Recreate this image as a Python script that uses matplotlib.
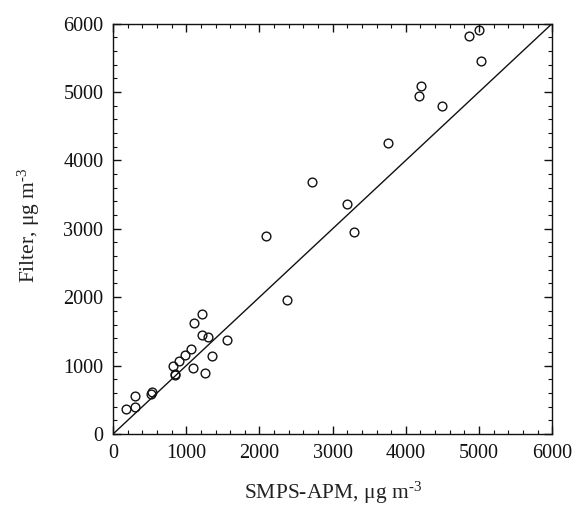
import matplotlib
matplotlib.use("Agg")
import matplotlib.pyplot as plt
from matplotlib.ticker import MultipleLocator

smps_apm = [178, 300, 300, 515, 528, 824, 851, 851, 901, 984, 1061, 1097, 1102,
            1220, 1216, 1293, 1257, 1357, 1557, 2381, 2086, 2714, 3197, 3288,
            3757, 4203, 4184, 4499, 4863, 5000, 5031]
filter_mass = [361, 556, 390, 580, 614, 999, 863, 875, 1067, 1155, 1238, 970, 1623,
               1759, 1447, 1413, 896, 1145, 1379, 1964, 2895, 3684, 3363, 2958,
               4254, 5083, 4942, 4795, 5823, 5911, 5453]
fit_x = [0, 6000]
fit_y = [0, 6000]

plt.rcParams['font.family'] = ['Liberation Serif', 'DejaVu Serif']
plt.rcParams['mathtext.fontset'] = 'custom'
plt.rcParams['mathtext.rm'] = 'Liberation Serif'
plt.rcParams['mathtext.it'] = 'Liberation Serif'
plt.rcParams['mathtext.default'] = 'rm'

fig = plt.figure(figsize=(5.77, 5.08), dpi=100)
ax = fig.add_axes([0.196, 0.1457, 0.761, 0.808])

ax.plot(fit_x, fit_y, color='#111111', lw=1.0)
ax.plot(smps_apm, filter_mass, linestyle='none', marker='o', markersize=6.3,
        markerfacecolor='none', markeredgecolor='#111111', markeredgewidth=1.0)

ax.set_xlim(0, 6000)
ax.set_ylim(0, 6000)
ax.xaxis.set_major_locator(MultipleLocator(1000))
ax.yaxis.set_major_locator(MultipleLocator(1000))
ax.xaxis.set_minor_locator(MultipleLocator(200))
ax.yaxis.set_minor_locator(MultipleLocator(200))
ax.tick_params(which='both', direction='in', top=True, right=True, labelsize=14.5, colors='#111111')
ax.tick_params(which='major', length=6, width=1.0)
ax.tick_params(which='minor', length=3, width=0.8)
ax.tick_params(axis='x', pad=7)
ax.tick_params(axis='y', pad=7)
for s in ax.spines.values():
    s.set_linewidth(1.0)
    s.set_color('#111111')

ax.set_xlabel('SMPS-APM, \u03bcg m$^{\u20103}$', fontsize=15.5, color='#222222', labelpad=12)
ax.set_ylabel('Filter, \u03bcg m$^{\u20103}$', fontsize=15.5, color='#222222', labelpad=22)
ax.yaxis.set_label_coords(-0.163, 0.51)

fig.savefig('out.png', dpi=100, facecolor='white')
